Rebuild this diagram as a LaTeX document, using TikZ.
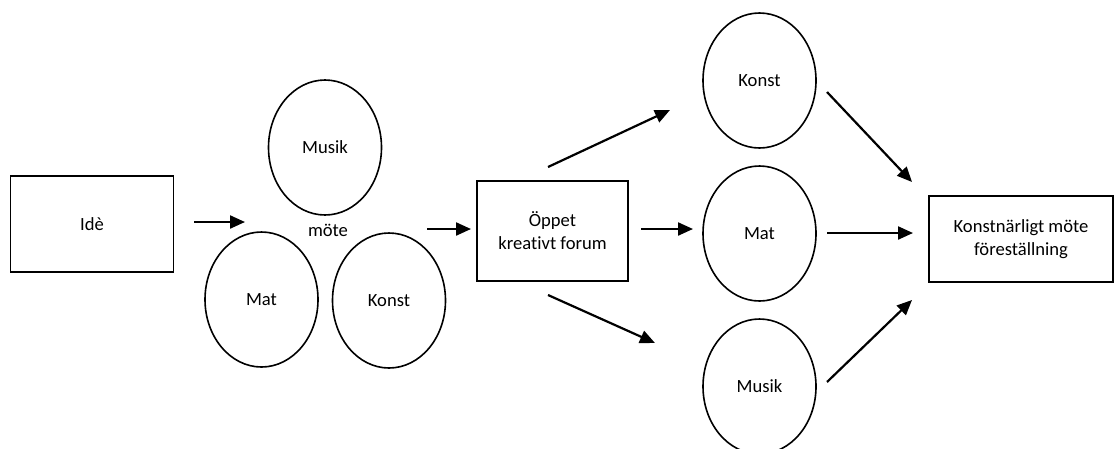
\documentclass[tikz,border=0pt]{standalone}
\usepackage{fontspec}
\setmainfont[Ligatures=NoCommon]{Carlito}
\usepackage{tikz}
\usetikzlibrary{shapes.geometric,arrows.meta}

\begin{document}
\begin{tikzpicture}[x=1pt,y=-1pt,
  font=\fontsize{18.6}{23}\selectfont,
  box/.style={draw,line width=1.6pt,inner sep=0pt,align=center},
  oval/.style={draw,ellipse,line width=1.6pt,minimum width=113pt,minimum height=135pt,inner sep=0pt},
  pil/.style={line width=2.2pt,-{Triangle[length=15pt,width=13pt]}}]
\useasboundingbox (0,0) rectangle (1115,448);
\node[box,minimum width=163pt,minimum height=96pt] (ide) at (92,224) {Idè};
\node[oval] (musik1) at (325,147.5) {Musik}; \node[oval] (mat1) at (261.5,299.5) {Mat}; \node[oval] (konst1) at (389,300.5) {Konst};
\node (mote) at (328,230) {möte};
\node[box,minimum width=151pt,minimum height=100pt] (forum) at (552.5,231) {Öppet\\kreativt forum};
\node[oval] (konst2) at (759.5,80.5) {Konst}; \node[oval] (mat2) at (759.5,233.5) {Mat}; \node[oval] (musik2) at (759.5,386.5) {Musik};
\node[box,minimum width=184pt,minimum height=86pt] (slut) at (1021,239) {Konstnärligt möte\\föreställning};
% fria pilar
\coordinate (a1) at (194,222); \coordinate (a2) at (245,222);
\coordinate (b1) at (427,229); \coordinate (b2) at (471,229);
\coordinate (c1) at (548,167); \coordinate (c2) at (670,110);
\coordinate (d1) at (641,229); \coordinate (d2) at (693,229);
\coordinate (e1) at (548,295); \coordinate (e2) at (655,343);
\coordinate (f1) at (827,92); \coordinate (f2) at (912,182);
\coordinate (g1) at (827,233); \coordinate (g2) at (913,233);
\coordinate (h1) at (827,382); \coordinate (h2) at (912,300);
\foreach \s/\t in {a1/a2,b1/b2,c1/c2,d1/d2,e1/e2,f1/f2,g1/g2,h1/h2}
  \draw[pil] (\s) -- (\t);
\end{tikzpicture}
\end{document}
